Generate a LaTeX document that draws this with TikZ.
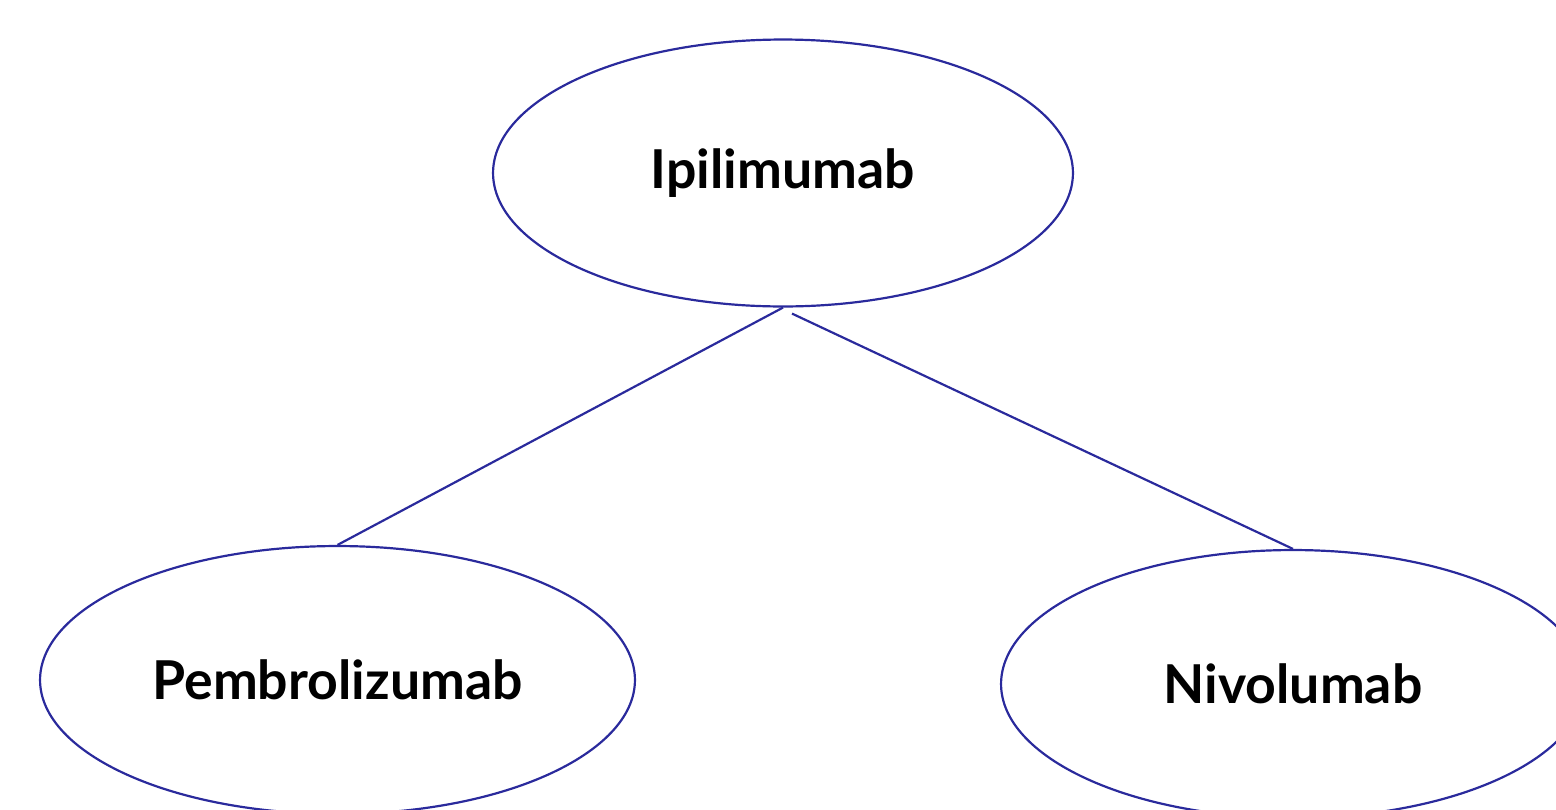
\documentclass[tikz,border=0pt]{standalone}
\usepackage{fontspec}
\setmainfont{Lato}[BoldFont={Lato Bold}]
\usepackage{xcolor}
\usetikzlibrary{positioning,calc,shapes.geometric}
\definecolor{edge}{HTML}{2A2A9C}
\definecolor{text}{HTML}{000000}
\tikzset{
  drug/.style={ellipse, draw=edge, line width=1.25pt, inner sep=0pt,
               font=\fontsize{30.5}{34}\selectfont\bfseries, text=text},
  link/.style={draw=edge, line width=1.25pt}
}
\begin{document}
\begin{tikzpicture}[x=0.02cm,y=-0.02cm]
    \useasboundingbox (0,0) rectangle (1556,809);
    \clip (0,0) rectangle (1556,809);

    % Root
    \node[drug, minimum width=11.6cm, minimum height=5.34cm] (ipi) at (783,173) {Ipilimumab};

    % Children
    \node[drug, minimum width=11.9cm, minimum height=5.36cm] (pembro) at (337.5,680) {Pembrolizumab};
    \node[drug, minimum width=11.68cm, minimum height=5.36cm] (nivo) at (1293,684) {Nivolumab};

    % Links
    \draw[link] (ipi.south) -- (pembro.north);
    \draw[link] ($(ipi.south)+(9,6)$) -- (nivo.north);
  \end{tikzpicture}
\end{document}
